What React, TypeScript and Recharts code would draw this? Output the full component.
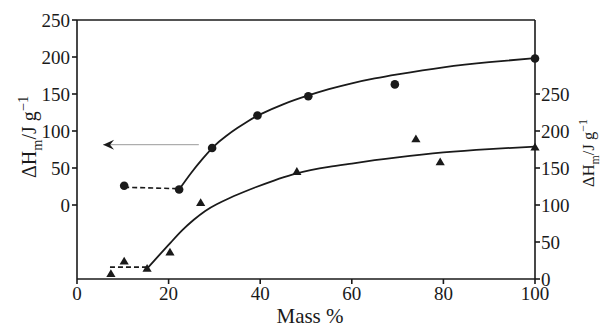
import { ComposedChart, Line, Scatter, XAxis, YAxis, ReferenceLine, Label } from 'recharts';

// mass % and enthalpy values
const massTicks = [0, 20, 40, 60, 80, 100];
const leftTicks = [0, 50, 100, 150, 200, 250];
const rightTicks = [0, 50, 100, 150, 200, 250];

const circleMass = [10.3, 22.3, 29.5, 39.4, 50.5, 69.4, 100];
const circleDH = [26, 21, 77, 121, 147, 163, 198];

const triMass = [7.4, 10.3, 15.3, 20.3, 27, 48, 74, 79.3, 100];
const triDH = [7, 24, 14, 36, 103, 145, 189, 158, 178];

const circleFitMass = [22.3, 25, 27.5, 30, 32.5, 35, 37.5, 40, 45, 50, 55, 60, 65, 70, 80, 90, 100];
const circleFitDH = [21, 44, 63, 80, 93, 104, 114, 122.5, 136, 147, 156.5, 164.5, 171, 176.5, 186, 193, 198.5];

const triFitMass = [15.3, 18, 20.5, 23, 25.5, 28, 30.5, 33, 36, 39, 43, 47, 51, 55, 60, 65, 70, 80, 90, 100];
const triFitDH = [14, 32.5, 49.5, 66, 80, 92, 101, 108.5, 116.5, 124, 133, 141, 147, 151.5, 156, 160.5, 164.5, 171, 175.5, 179];

const circleDashMass = [10.3, 22.3];
const circleDashDH = [24, 22];
const triDashMass = [7.2, 15.3];
const triDashDH = [16, 16];

const arrowMass = [5.7, 26.6];
const arrowDH = [81.5, 81.5];

const pts = (xs: number[], ys: number[]) => xs.map((x, i) => ({ x, y: ys[i] }));

const INK = '#1a1a1a';
const FONT = "'Liberation Serif', 'Times New Roman', Times, serif";

const axisStyle = { stroke: INK, strokeWidth: 1.6 };
const tickStyle = { fill: INK, fontSize: 19, style: { fontFamily: FONT } };

const Dot = (p: any) => <circle cx={p.cx} cy={p.cy} r={4.3} fill={INK} />;
const Tri = (p: any) => (
  <path d={`M${p.cx},${p.cy - 4.6} L${p.cx - 4.6},${p.cy + 3.2} L${p.cx + 4.6},${p.cy + 3.2} Z`} fill={INK} />
);

const ArrowHead = (p: any) => {
  if (p.index !== 0) return <g key={`a${p.index}`} />;
  const { cx, cy } = p;
  return (
    <path
      key="head"
      d={`M${cx},${cy} L${cx + 11},${cy - 5} L${cx + 7},${cy} L${cx + 11},${cy + 5} Z`}
      fill={INK}
    />
  );
};

function DHTitle({ cx, cy, size }: { cx: number; cy: number; size: number }) {
  const small = size * 0.72;
  return (
    <text
      transform={`translate(${cx},${cy}) rotate(-90)`}
      x={0}
      y={0}
      textAnchor="middle"
      style={{ fontFamily: FONT }}
      fontSize={size}
      fill={INK}
    >
      ΔH
      <tspan dy={size * 0.28} fontSize={small}>m</tspan>
      <tspan dy={-size * 0.28}>/J g</tspan>
      <tspan dy={-size * 0.4} fontSize={small}>−1</tspan>
    </text>
  );
}

export default function App() {
  return (
    <div
      style={{
        position: 'absolute',
        left: 0,
        top: 0,
        width: 602,
        height: 328,
        background: '#fff',
        fontFamily: FONT,
      }}
    >
      <ComposedChart
        width={602}
        height={328}
        margin={{ top: 20, right: 7, bottom: 19, left: 17 }}
        style={{ fontFamily: FONT }}
      >
        <XAxis
          type="number"
          dataKey="x"
          domain={[0, 100]}
          ticks={massTicks}
          axisLine={axisStyle}
          tickLine={axisStyle}
          tickSize={5}
          tickMargin={3}
          height={30}
          tick={tickStyle}
        >
          <Label
            content={() => (
              <text x={310} y={323} textAnchor="middle" style={{ fontFamily: FONT }} fontSize={21} fill={INK}>
                Mass %
              </text>
            )}
          />
        </XAxis>
        <YAxis
          yAxisId="left"
          type="number"
          domain={[-100, 250]}
          ticks={leftTicks}
          width={60}
          axisLine={axisStyle}
          tickLine={axisStyle}
          tickSize={5}
          tickMargin={2}
          tick={tickStyle}
        >
          <Label content={() => <DHTitle cx={36} cy={137} size={20} />} />
        </YAxis>
        <YAxis
          yAxisId="right"
          orientation="right"
          type="number"
          domain={[0, 350]}
          ticks={rightTicks}
          width={60}
          axisLine={axisStyle}
          tickLine={axisStyle}
          tickSize={5}
          tickMargin={1}
          tick={tickStyle}
        >
          <Label content={() => <DHTitle cx={594} cy={153} size={16.5} />} />
        </YAxis>
        <ReferenceLine yAxisId="left" y={250} stroke={INK} strokeWidth={1.6} />

        <Line
          data={pts(arrowMass, arrowDH)}
          dataKey="y"
          yAxisId="left"
          type="linear"
          stroke="#9a9a9a"
          strokeWidth={1}
          dot={ArrowHead}
          activeDot={false}
          isAnimationActive={false}
        />
        <Line
          data={pts(circleDashMass, circleDashDH)}
          dataKey="y"
          yAxisId="left"
          type="linear"
          stroke={INK}
          strokeWidth={1.6}
          strokeDasharray="5 3"
          dot={false}
          isAnimationActive={false}
        />
        <Line
          data={pts(circleFitMass, circleFitDH)}
          dataKey="y"
          yAxisId="left"
          type="natural"
          stroke={INK}
          strokeWidth={1.8}
          dot={false}
          isAnimationActive={false}
        />
        <Line
          data={pts(triDashMass, triDashDH)}
          dataKey="y"
          yAxisId="right"
          type="linear"
          stroke={INK}
          strokeWidth={1.6}
          strokeDasharray="5 3"
          dot={false}
          isAnimationActive={false}
        />
        <Line
          data={pts(triFitMass, triFitDH)}
          dataKey="y"
          yAxisId="right"
          type="natural"
          stroke={INK}
          strokeWidth={1.8}
          dot={false}
          isAnimationActive={false}
        />
        <Scatter data={pts(circleMass, circleDH)} dataKey="y" yAxisId="left" shape={Dot} isAnimationActive={false} />
        <Scatter data={pts(triMass, triDH)} dataKey="y" yAxisId="right" shape={Tri} isAnimationActive={false} />
      </ComposedChart>
    </div>
  );
}
